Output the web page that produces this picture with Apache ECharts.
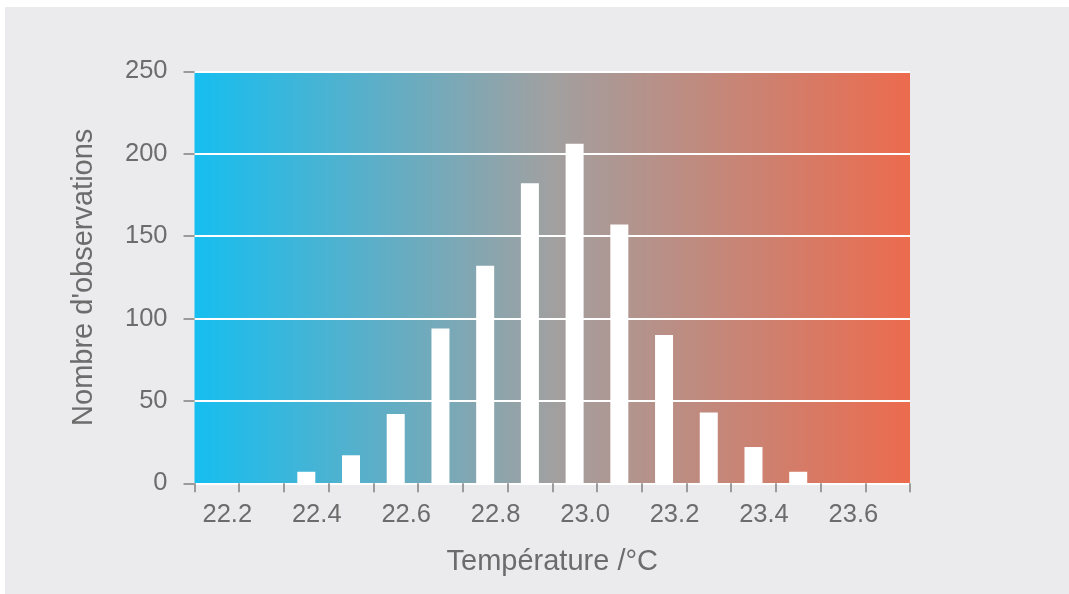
<!DOCTYPE html>
<html>
<head>
<meta charset="utf-8">
<script src="https://cdn.jsdelivr.net/npm/echarts@6/dist/echarts.min.js"></script>
<style>
  html, body { margin: 0; padding: 0; background: #ffffff; width: 1069px; height: 594px; overflow: hidden; }
  #panel { position: absolute; left: 5px; top: 7px; right: 0; bottom: 0; background: #ebebed; }
  #chart { position: absolute; left: 0; top: 0; width: 1069px; height: 594px; }
</style>
</head>
<body>
<div id="panel"></div>
<div id="chart"></div>
<script>
// Bin centres (°C) and counts
const binCenters = [22.45, 22.55, 22.65, 22.75, 22.85, 22.95, 23.05, 23.15, 23.25, 23.35, 23.45, 23.55];
const counts     = [7, 17, 42, 94, 132, 182, 206, 157, 90, 43, 22, 7];
// Tick labels shown on the axes
const xTickLabels = ['22.2', '22.4', '22.6', '22.8', '23.0', '23.2', '23.4', '23.6'];
const yTickLabels = [0, 50, 100, 150, 200, 250];

const xName = 'Température /°C';
const yName = "Nombre d'observations";

const textColor = '#6c6c6c';
const font = '"Liberation Sans", Arial, Helvetica, sans-serif';

const chart = echarts.init(document.getElementById('chart'), null, { renderer: 'canvas' });

chart.setOption({
  animation: false,
  textStyle: { fontFamily: font },
  grid: {
    left: 194.5, right: 159, top: 71.3, bottom: 110.7,
    show: true,
    borderWidth: 0,
    backgroundColor: {
      type: 'linear', x: 0, y: 0, x2: 1, y2: 0,
      colorStops: [
        { offset: 0, color: '#16bef0' },
        { offset: 0.5, color: '#a1a0a0' },
        { offset: 1, color: '#ec6b4e' }
      ]
    }
  },
  xAxis: {
    type: 'value',
    min: 22.2, max: 23.8, interval: 0.1,
    name: xName,
    nameLocation: 'middle',
    nameGap: 64,
    nameTextStyle: { color: textColor, fontSize: 29, fontFamily: font },
    axisLine: { show: false },
    axisTick: { show: true, length: 9, lineStyle: { color: '#9b9b9b', width: 2 } },
    splitLine: { show: false },
    axisLabel: {
      color: textColor, fontSize: 25.5, fontFamily: font,
      margin: 19,
      align: 'left',
      padding: [0, 0, 0, 8],
      showMaxLabel: true,
      formatter: function (v) {
        const s = (Math.round(v * 10) / 10).toFixed(1);
        return xTickLabels.indexOf(s) >= 0 ? s : '';
      }
    }
  },
  yAxis: {
    type: 'value',
    min: 0, max: 250, interval: 50,
    name: yName,
    nameLocation: 'middle',
    nameGap: 96,
    nameTextStyle: { color: textColor, fontSize: 29, fontFamily: font },
    axisLine: { show: false },
    axisTick: { show: true, length: 11, lineStyle: { color: '#9b9b9b', width: 2 } },
    splitLine: { show: true, lineStyle: { color: '#ffffff', width: 2 } },
    axisLabel: {
      color: textColor, fontSize: 25.5, fontFamily: font, margin: 27,
      formatter: function (v) { return yTickLabels.indexOf(v) >= 0 ? String(v) : ''; }
    }
  },
  series: [{
    type: 'bar',
    barWidth: 18,
    itemStyle: { color: '#ffffff' },
    z: 3,
    data: binCenters.map((x, i) => [x, counts[i]])
  }]
});
</script>
</body>
</html>
